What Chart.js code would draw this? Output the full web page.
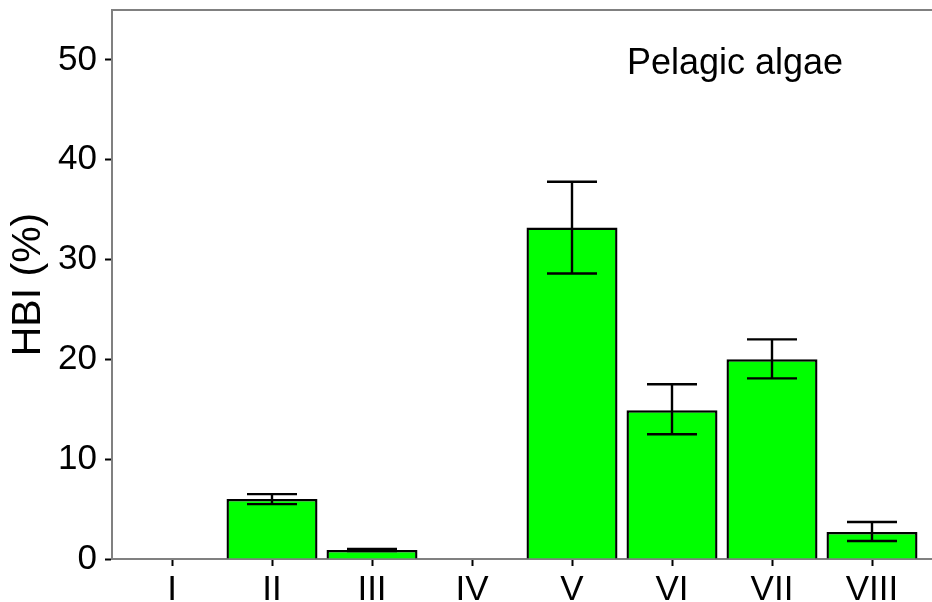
<!DOCTYPE html>
<html>
<head>
<meta charset="utf-8">
<script src="https://cdn.jsdelivr.net/npm/chart.js@4/dist/chart.umd.min.js"></script>
<style>
  html, body { margin: 0; padding: 0; background: #fff; }
  #wrap { width: 932px; height: 602px; position: relative; }
</style>
</head>
<body>
<div id="wrap"><canvas id="c" width="932" height="602"></canvas></div>
<script>
const categories = ['I', 'II', 'III', 'IV', 'V', 'VI', 'VII', 'VIII'];
const hbiMean = [0, 6.0, 0.9, 0, 33.2, 14.9, 20.0, 2.7];
const errLow  = [0, 5.5, 0.8, 0, 28.6, 12.5, 18.1, 1.8];
const errHigh = [0, 6.5, 1.0, 0, 37.8, 17.5, 22.0, 3.7];
const yTicks = [0, 10, 20, 30, 40, 50];
const panelLabel = 'Pelagic algae';

const FONT = '"Liberation Sans", Arial, Helvetica, sans-serif';

const errorBars = {
  id: 'errorBars',
  afterDatasetsDraw(chart) {
    const { ctx, scales: { x, y } } = chart;
    ctx.save();
    ctx.strokeStyle = '#000';
    ctx.lineWidth = 2.4;
    categories.forEach((c, i) => {
      if (errHigh[i] === errLow[i]) return;
      const cx = x.getPixelForValue(i + 1);
      const hw = x.getPixelForValue(i + 1.25) - cx;
      const yl = y.getPixelForValue(errLow[i]);
      const yh = y.getPixelForValue(errHigh[i]);
      ctx.beginPath();
      ctx.moveTo(cx, yl); ctx.lineTo(cx, yh);
      ctx.moveTo(cx - hw, yh); ctx.lineTo(cx + hw, yh);
      ctx.moveTo(cx - hw, yl); ctx.lineTo(cx + hw, yl);
      ctx.stroke();
    });
    ctx.restore();
  }
};

const frameAndLabel = {
  id: 'frameAndLabel',
  afterDraw(chart) {
    const { ctx, chartArea: a, scales: { x, y } } = chart;
    ctx.save();
    ctx.strokeStyle = '#808080';
    ctx.lineWidth = 2;
    ctx.beginPath();
    ctx.moveTo(a.left - 1, a.top); ctx.lineTo(a.right, a.top);
    ctx.stroke();
    ctx.fillStyle = '#000';
    ctx.font = '36px ' + FONT;
    ctx.textAlign = 'center';
    ctx.textBaseline = 'alphabetic';
    ctx.fillText(panelLabel, x.getPixelForValue(6.63), y.getPixelForValue(48.6));
    ctx.restore();
  }
};

new Chart(document.getElementById('c'), {
  type: 'bar',
  data: {
    datasets: [{
      data: hbiMean.map((v, i) => ({ x: i + 1, y: v })),
      backgroundColor: '#00ff00',
      borderColor: '#000000',
      borderWidth: 2.4,
      barPercentage: 0.91,
      categoryPercentage: 1
    }]
  },
  options: {
    responsive: false,
    animation: false,
    events: [],
    layout: { padding: { top: 10, right: 0, left: 0, bottom: 0 } },
    plugins: { legend: { display: false }, tooltip: { enabled: false } },
    scales: {
      x: {
        type: 'linear',
        offset: false,
        min: 0.4,
        max: 8.6,
        afterBuildTicks(s) { s.ticks = categories.map((c, i) => ({ value: i + 1 })); },
        afterFit(s) { s.height = 43; s.paddingLeft = 0; s.paddingRight = 0; },
        border: { display: true, color: '#808080', width: 2 },
        grid: { offset: false, drawOnChartArea: false, drawTicks: true, tickLength: 7, tickColor: '#000', tickWidth: 2 },
        ticks: {
          callback: (v) => categories[v - 1],
          color: '#000',
          font: { family: FONT, size: 35 },
          padding: 3,
          maxRotation: 0,
          autoSkip: false
        }
      },
      y: {
        min: 0,
        max: 55,
        afterBuildTicks(s) { s.ticks = yTicks.map(v => ({ value: v })); },
        afterFit(s) { s.width = 112; s.paddingTop = 0; s.paddingBottom = 0; },
        border: { display: true, color: '#808080', width: 2 },
        grid: { drawOnChartArea: false, drawTicks: true, tickLength: 7, tickColor: '#000', tickWidth: 2 },
        ticks: {
          color: '#000',
          font: { family: FONT, size: 35 },
          padding: 8
        },
        title: {
          display: true,
          text: 'HBI (%)',
          color: '#000',
          font: { family: FONT, size: 41 },
          padding: { top: 4, bottom: 0 }
        }
      }
    }
  },
  plugins: [errorBars, frameAndLabel]
});
</script>
</body>
</html>
